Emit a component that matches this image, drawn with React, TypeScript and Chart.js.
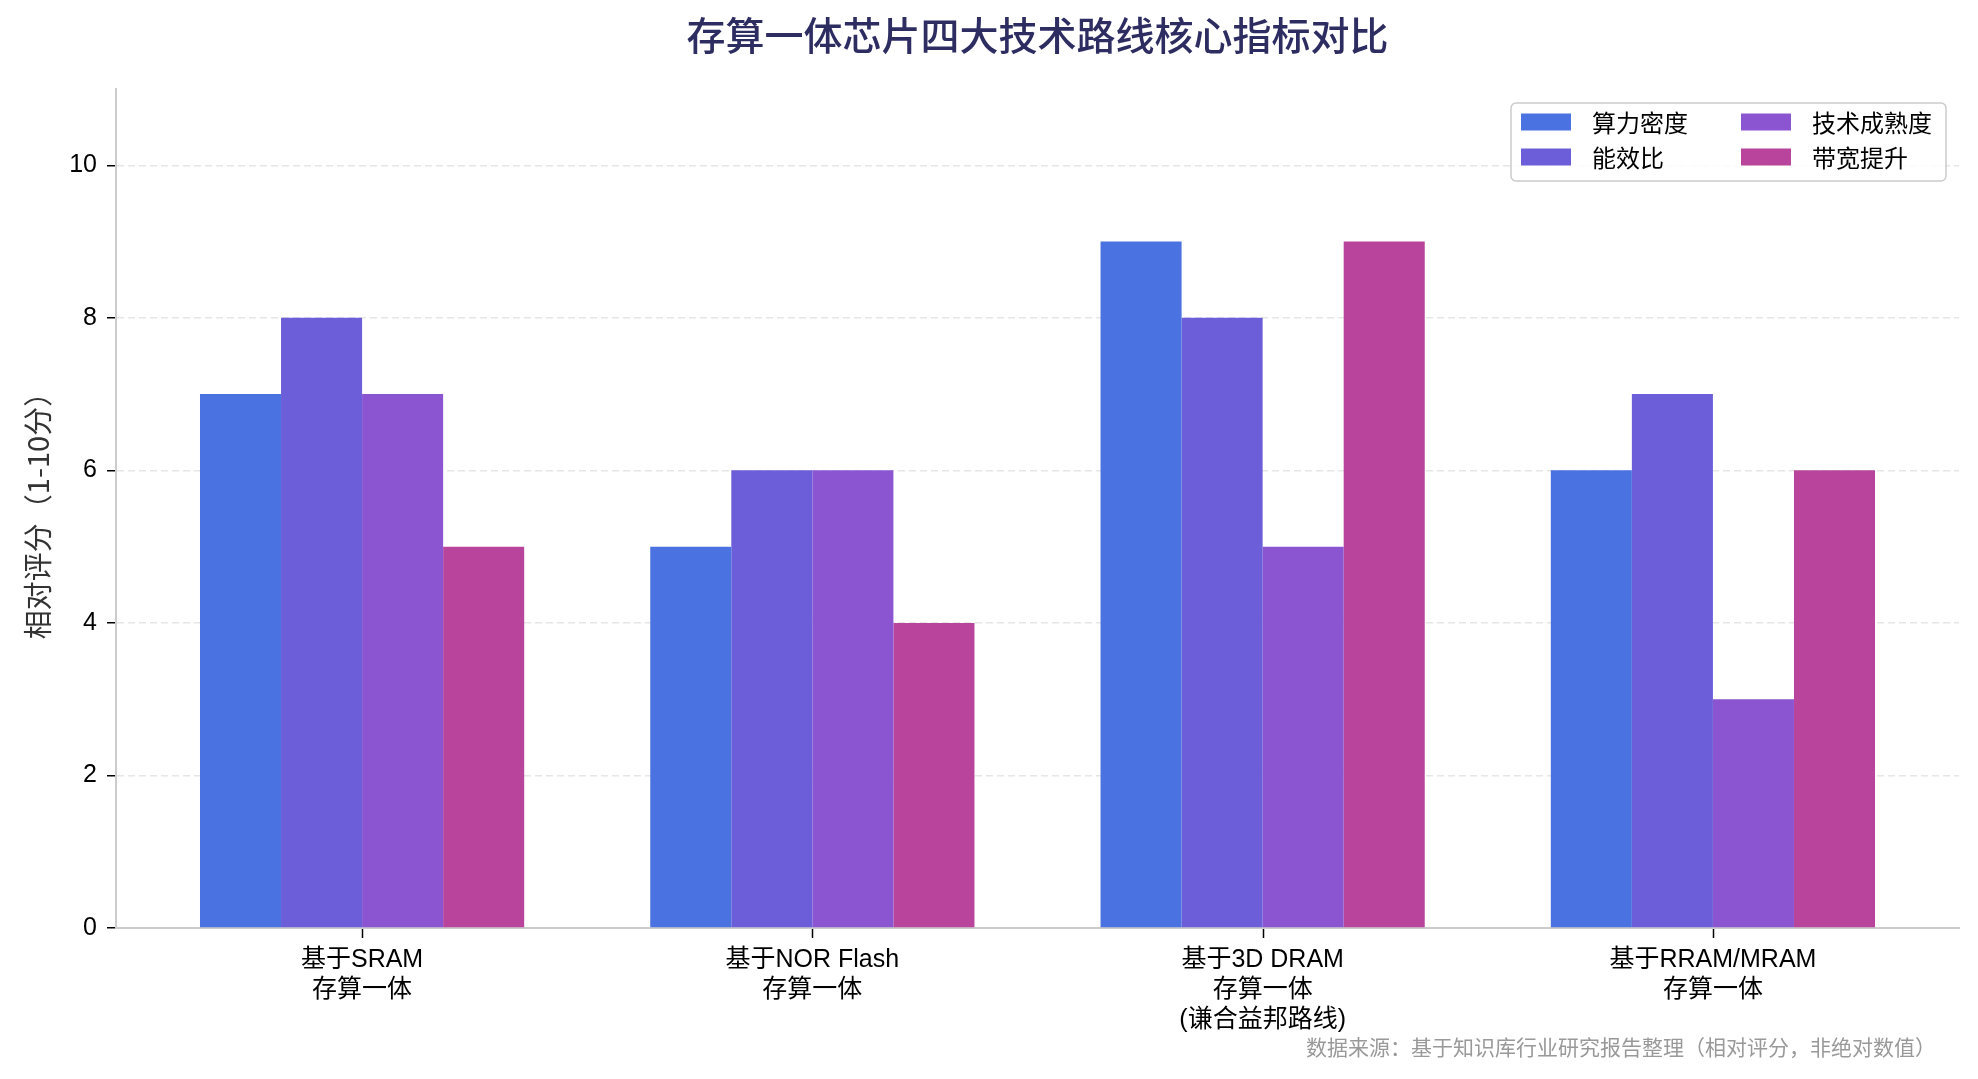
import { useEffect, useRef } from 'react';
import { Chart, registerables, type Plugin } from 'chart.js';

Chart.register(...registerables);

// categories (multi-line tick labels) and the four metric series
const categoryLabels: string[][] = [
  ['基于SRAM', '存算一体'],
  ['基于NOR Flash', '存算一体'],
  ['基于3D DRAM', '存算一体', '(谦合益邦路线)'],
  ['基于RRAM/MRAM', '存算一体'],
];
const seriesNames = ['算力密度', '能效比', '技术成熟度', '带宽提升'];
const computeDensity = [7, 5, 9, 6];
const energyEfficiency = [8, 6, 8, 7];
const maturity = [7, 6, 5, 3];
const bandwidth = [5, 4, 9, 6];
const yTicks = [0, 2, 4, 6, 8, 10];
const seriesColors = ['#4A72E0', '#6B5ED8', '#8B55D2', '#B8449B'];

const TITLE = '存算一体芯片四大技术路线核心指标对比';
const Y_TITLE = '相对评分（1-10分）';
const FOOTNOTE = '数据来源：基于知识库行业研究报告整理（相对评分，非绝对数值）';

const FONT = '"Liberation Sans", "Noto Sans CJK SC", sans-serif';
const CJK = '"Noto Sans CJK SC", "Liberation Sans", sans-serif';

const W = 1978;
const H = 1079;

const decorPlugin: Plugin<'bar'> = {
  id: 'decor',
  afterDraw(chart) {
    const { ctx, chartArea } = chart;
    const xScale = chart.scales.x;
    ctx.save();

    // title, centred over the plot area
    ctx.font = `500 39px ${CJK}`;
    ctx.fillStyle = '#2E2D62';
    ctx.textAlign = 'center';
    ctx.textBaseline = 'middle';
    ctx.fillText(TITLE, (chartArea.left + chartArea.right) / 2, 35);

    // category tick marks below the x axis
    ctx.strokeStyle = '#000000';
    ctx.lineWidth = 1.5;
    categoryLabels.forEach((_, i) => {
      const px = Math.round(xScale.getPixelForValue(i)) + 0.5;
      ctx.beginPath();
      ctx.moveTo(px, chartArea.bottom + 1);
      ctx.lineTo(px, chartArea.bottom + 10);
      ctx.stroke();
    });

    // footnote bottom right
    ctx.font = `21px ${CJK}`;
    ctx.fillStyle = '#999999';
    ctx.textAlign = 'right';
    ctx.fillText(FOOTNOTE, 1936, 1047);

    // legend, two columns, column-major
    const boxW = 435;
    const boxH = 78;
    const left = chartArea.right - 13 - boxW;
    const top = chartArea.top + 14;
    ctx.beginPath();
    ctx.roundRect(left, top, boxW, boxH, 5);
    ctx.fillStyle = 'rgba(255,255,255,0.85)';
    ctx.fill();
    ctx.lineWidth = 1.5;
    ctx.strokeStyle = '#cccccc';
    ctx.stroke();

    ctx.font = `24px ${CJK}`;
    ctx.textAlign = 'left';
    ctx.textBaseline = 'middle';
    chart.data.datasets.forEach((ds, i) => {
      const col = Math.floor(i / 2);
      const row = i % 2;
      const x = left + 10 + col * 220;
      const y = top + 19 + row * 35;
      ctx.fillStyle = ds.backgroundColor as string;
      ctx.fillRect(x, y - 8.5, 50, 17);
      ctx.fillStyle = '#000000';
      ctx.fillText(String(ds.label), x + 71, y + 1);
    });

    ctx.restore();
  },
};

export default function App() {
  const canvasRef = useRef<HTMLCanvasElement>(null);

  useEffect(() => {
    if (canvasRef.current === null) return undefined;
    const seriesValues = [computeDensity, energyEfficiency, maturity, bandwidth];
    const chart = new Chart(canvasRef.current, {
      type: 'bar',
      data: {
        datasets: seriesNames.map((name, s) => ({
          label: name,
          data: seriesValues[s].map((v, i) => ({ x: i, y: v })),
          backgroundColor: seriesColors[s],
          borderWidth: 0,
          categoryPercentage: 0.72,
          barPercentage: 1.0,
        })),
      },
      options: {
        responsive: false,
        animation: false,
        devicePixelRatio: 1,
        layout: { padding: { top: 89, right: 19, left: 0, bottom: 0 } },
        plugins: {
          legend: { display: false },
          title: { display: false },
          tooltip: { enabled: false },
        },
        scales: {
          x: {
            type: 'linear',
            min: -0.5465,
            max: 3.5465,
            offset: false,
            afterBuildTicks: (axis) => {
              axis.ticks = categoryLabels.map((_, i) => ({ value: i }));
            },
            afterFit: (axis) => {
              axis.height = H - 928;
            },
            grid: {
              offset: false,
              display: false,
            },
            border: { display: true, color: '#cccccc', width: 2 },
            ticks: {
              autoSkip: false,
              maxRotation: 0,
              padding: 9,
              color: '#000000',
              font: { family: FONT, size: 25, lineHeight: 1.2 },
              callback: (value) => categoryLabels[Number(value)] ?? '',
            },
          },
          y: {
            min: 0,
            max: 11,
            afterBuildTicks: (axis) => {
              axis.ticks = yTicks.map((v) => ({ value: v }));
            },
            afterFit: (axis) => {
              axis.width = 116;
            },
            grid: {
              color: '#e6e6e6',
              lineWidth: 1.5,
              drawTicks: true,
              tickLength: 9,
              tickColor: '#000000',
              tickWidth: 1.5,
              tickBorderDash: [],
            },
            border: { display: true, color: '#cccccc', width: 2, dash: [7, 4] },
            ticks: {
              padding: 10,
              color: '#000000',
              font: { family: FONT, size: 25 },
            },
            title: {
              display: true,
              text: Y_TITLE,
              color: '#333333',
              padding: { top: 21, bottom: 0 },
              font: { family: CJK, size: 29 },
            },
          },
        },
      },
      plugins: [decorPlugin],
    });
    return () => {
      chart.destroy();
    };
  }, []);

  return (
    <div style={{ position: 'absolute', left: 0, top: 0, width: W, height: H, background: '#ffffff' }}>
      <canvas ref={canvasRef} width={W} height={H} style={{ width: W, height: H }} />
    </div>
  );
}
